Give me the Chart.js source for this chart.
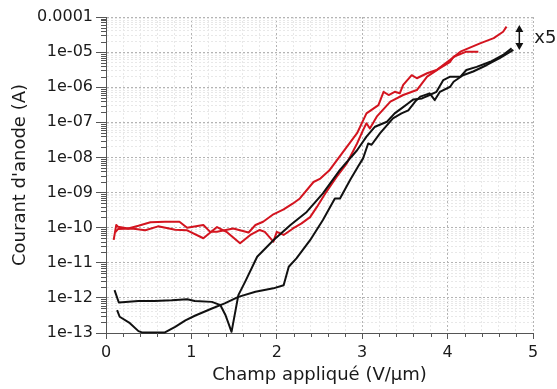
<!DOCTYPE html>
<html><head><meta charset="utf-8">
<script src="https://cdn.jsdelivr.net/npm/chart.js@4/dist/chart.umd.min.js"></script>
<style>html,body{margin:0;padding:0;background:#fff}</style>
</head><body>
<canvas id="c" width="557" height="389"></canvas>
<script>
// ---- data ----
const xR1 = [0.09,0.12,0.14,0.26,0.38,0.52,0.69,0.86,0.95,1.14,1.22,1.30,1.49,1.67,1.75,1.84,1.96,2.08,2.19,2.27,2.43,2.51,2.62,2.82,2.94,3.05,3.19,3.25,3.31,3.38,3.44,3.48,3.58,3.64,3.76,3.87,4.03,4.15,4.38,4.54,4.65,4.69];
const yR1 = [4.5e-11,1.2e-10,1.06e-10,9.5e-11,1.13e-10,1.42e-10,1.47e-10,1.47e-10,9.9e-11,1.19e-10,7.6e-11,7.6e-11,9.5e-11,7.3e-11,1.19e-10,1.47e-10,2.4e-10,3.3e-10,4.9e-10,6.8e-10,2.0e-9,2.5e-9,4.4e-9,2.0e-8,4.9e-8,1.8e-7,3.1e-7,7.4e-7,6.0e-7,7.4e-7,6.7e-7,1.16e-6,2.2e-6,1.8e-6,2.5e-6,3.1e-6,6.0e-6,1.03e-5,1.78e-5,2.5e-5,3.8e-5,5.3e-5];

const xR2 = [0.11,0.14,0.30,0.46,0.61,0.81,0.95,1.14,1.30,1.41,1.57,1.69,1.80,1.86,1.96,2.00,2.08,2.19,2.29,2.39,2.47,2.58,2.70,2.82,2.94,3.01,3.05,3.09,3.17,3.33,3.48,3.64,3.76,3.91,4.03,4.07,4.22,4.36];
const yR2 = [7.5e-11,9.1e-11,9.5e-11,8.4e-11,1.09e-10,8.7e-11,8.4e-11,5.0e-11,1.04e-10,7.6e-11,3.6e-11,6.2e-11,8.6e-11,7.6e-11,4.0e-11,7.6e-11,6.2e-11,9.5e-11,1.33e-10,2.0e-10,3.9e-10,1.05e-9,2.8e-9,6.8e-9,2.5e-8,6.0e-8,9.4e-8,6.7e-8,1.45e-7,3.9e-7,6.0e-7,8.3e-7,2.0e-6,3.5e-6,5.3e-6,7.4e-6,1.03e-5,1.03e-5];

const xB1 = [0.10,0.15,0.38,0.57,0.77,0.95,1.04,1.24,1.34,1.40,1.47,1.55,1.63,1.77,1.96,2.16,2.35,2.54,2.74,2.94,3.05,3.15,3.29,3.38,3.46,3.54,3.60,3.70,3.79,3.87,3.95,4.03,4.15,4.22,4.34,4.50,4.65,4.75];
const yB1 = [1.67e-12,7.4e-13,8.1e-13,8.2e-13,8.5e-13,9.2e-13,8.2e-13,7.7e-13,6.2e-13,3.2e-13,1.08e-13,1.2e-12,2.9e-12,1.48e-11,4.4e-11,1.19e-10,2.8e-10,9.5e-10,4.4e-9,1.6e-8,3.9e-8,7.5e-8,1.04e-7,1.8e-7,2.5e-7,3.5e-7,4.5e-7,4.8e-7,6.0e-7,7.4e-7,1.6e-6,2.0e-6,2.0e-6,3.1e-6,3.8e-6,5.3e-6,8.3e-6,1.28e-5];

const xB2 = [0.13,0.16,0.28,0.38,0.42,0.69,0.81,0.93,1.04,1.24,1.39,1.55,1.75,1.96,2.08,2.14,2.23,2.39,2.54,2.68,2.74,2.86,2.95,3.01,3.07,3.11,3.21,3.36,3.46,3.54,3.62,3.68,3.79,3.85,3.91,4.03,4.07,4.18,4.30,4.46,4.61,4.77];
const yB2 = [4.5e-13,2.9e-13,1.9e-13,1.13e-13,1.04e-13,1.04e-13,1.5e-13,2.3e-13,3.1e-13,5.0e-13,7.0e-13,1.07e-12,1.49e-12,1.87e-12,2.3e-12,7.7e-12,1.33e-11,4.4e-11,1.65e-10,6.8e-10,6.8e-10,2.3e-9,5.4e-9,9.4e-9,2.5e-8,2.3e-8,4.9e-8,1.3e-7,1.8e-7,2.2e-7,3.9e-7,5.4e-7,6.7e-7,4.3e-7,7.4e-7,1.03e-6,1.43e-6,2.2e-6,2.8e-6,4.3e-6,6.7e-6,1.15e-5];

// ---- ticks ----
const xTickValues = [0,0.2,0.4,0.6,0.8,1,1.2,1.4,1.6,1.8,2,2.2,2.4,2.6,2.8,3,3.2,3.4,3.6,3.8,4,4.2,4.4,4.6,4.8,5];
const xTickLabels = {0:'0',1:'1',2:'2',3:'3',4:'4',5:'5'};
const yMajorTicks = [1e-13,1e-12,1e-11,1e-10,1e-9,1e-8,1e-7,1e-6,1e-5,1e-4];
const yTickLabels = ['1e-13','1e-12','1e-11','1e-10','1e-09','1e-08','1e-07','1e-06','1e-05','0.0001'];
const yMinorMultipliers = [2,3,4,5,6,7,8,9];

// ---- annotation ----
const arrowX = 4.84, arrowTop = 5.9e-5, arrowBottom = 1.15e-5, arrowText = 'x5';

const RED = '#d3141f', BLACK = '#111111', AXIS = '#555555', TEXT = '#1a1a1a';
const FONT = '"DejaVu Sans", Verdana, sans-serif';

const toPts = (xs, ys) => xs.map((v, i) => ({x: v, y: ys[i]}));
const yMinorTicks = [];
yMajorTicks.slice(0, -1).forEach(d => yMinorMultipliers.forEach(m => yMinorTicks.push(m * d)));
const xMinorTicks = xTickValues.filter(v => !Number.isInteger(v));

const ds = (xs, ys, color, w) => ({data: toPts(xs, ys), borderColor: color, borderWidth: w,
  pointRadius: 0, fill: false, tension: 0, clip: 4, borderJoinStyle: 'round'});

const extras = {
  id: 'extras',
  afterDraw(chart) {
    const {ctx, scales: {x, y}, chartArea: ca} = chart;
    ctx.save();
    ctx.strokeStyle = AXIS; ctx.lineWidth = 1;
    yMinorTicks.forEach(v => {
      const py = Math.round(y.getPixelForValue(v)) + 0.5;
      ctx.beginPath(); ctx.moveTo(ca.left - 5, py); ctx.lineTo(ca.left, py); ctx.stroke();
    });
    xMinorTicks.forEach(v => {
      const px = Math.round(x.getPixelForValue(v)) + 0.5;
      ctx.beginPath(); ctx.moveTo(px, ca.bottom); ctx.lineTo(px, ca.bottom + 4); ctx.stroke();
    });
    // double arrow
    const ax = x.getPixelForValue(arrowX), t = y.getPixelForValue(arrowTop), b = y.getPixelForValue(arrowBottom);
    ctx.strokeStyle = BLACK; ctx.fillStyle = BLACK; ctx.lineWidth = 1.5;
    ctx.beginPath(); ctx.moveTo(ax, t + 4); ctx.lineTo(ax, b - 4); ctx.stroke();
    ctx.beginPath(); ctx.moveTo(ax, t); ctx.lineTo(ax - 4, t + 7); ctx.lineTo(ax + 4, t + 7); ctx.closePath(); ctx.fill();
    ctx.beginPath(); ctx.moveTo(ax, b); ctx.lineTo(ax - 4, b - 7); ctx.lineTo(ax + 4, b - 7); ctx.closePath(); ctx.fill();
    ctx.font = '18px ' + FONT; ctx.fillStyle = TEXT; ctx.textAlign = 'left'; ctx.textBaseline = 'middle';
    ctx.fillText(arrowText, ax + 15, (t + b) / 2 + 1);
    ctx.restore();
  }
};

const gridColor = c => (c.tick && c.tick.major) ? '#b4b4b4' : '#e8e8e8';

new Chart(document.getElementById('c'), {
  type: 'line',
  data: {datasets: [
    ds(xB1, yB1, BLACK, 2),
    ds(xB2, yB2, BLACK, 2),
    ds(xR1, yR1, RED, 2),
    ds(xR2, yR2, RED, 2)
  ]},
  options: {
    responsive: false, animation: false, devicePixelRatio: 1,
    layout: {padding: {top: 17, right: 24, left: 0, bottom: 0}},
    plugins: {legend: {display: false}, tooltip: {enabled: false}},
    scales: {
      x: {
        type: 'linear', min: 0, max: 5,
        afterBuildTicks: s => { s.ticks = xTickValues.map(v => ({value: v, major: Number.isInteger(v)})); },
        afterFit: s => { s.height = 56; },
        ticks: {autoSkip: false, maxRotation: 0, padding: 4, color: TEXT, font: {family: FONT, size: 16},
          callback: v => (v in xTickLabels && Number.isInteger(v)) ? xTickLabels[v] : ''},
        grid: {color: gridColor, lineWidth: 1, tickLength: 6,
          tickColor: c => (c.tick && c.tick.major) ? AXIS : 'rgba(0,0,0,0)'},
        border: {display: true, color: AXIS, width: 1, dash: [2, 2]},
        title: {display: true, text: 'Champ appliqué (V/µm)', color: TEXT, font: {family: FONT, size: 18},
          padding: {top: 0, bottom: 3}}
      },
      y: {
        type: 'logarithmic', min: 1e-13, max: 1e-4,
        afterBuildTicks: s => {
          const all = yMajorTicks.map(v => ({value: v, major: true})).concat(yMinorTicks.map(v => ({value: v, major: false})));
          all.sort((a, b) => a.value - b.value);
          s.ticks = all;
        },
        afterFit: s => { s.width = 106; },
        ticks: {autoSkip: false, padding: 3, color: TEXT, font: {family: FONT, size: 16},
          callback: v => { const i = yMajorTicks.indexOf(v); return i >= 0 ? yTickLabels[i] : ''; }},
        grid: {color: gridColor, lineWidth: 1, tickLength: 10,
          tickColor: c => (c.tick && c.tick.major) ? AXIS : 'rgba(0,0,0,0)'},
        border: {display: true, color: AXIS, width: 1, dash: [2, 2]},
        title: {display: true, text: "Courant d'anode (A)", color: TEXT, font: {family: FONT, size: 18},
          padding: {top: 10, bottom: 0}}
      }
    }
  },
  plugins: [extras]
});
</script>
</body></html>
